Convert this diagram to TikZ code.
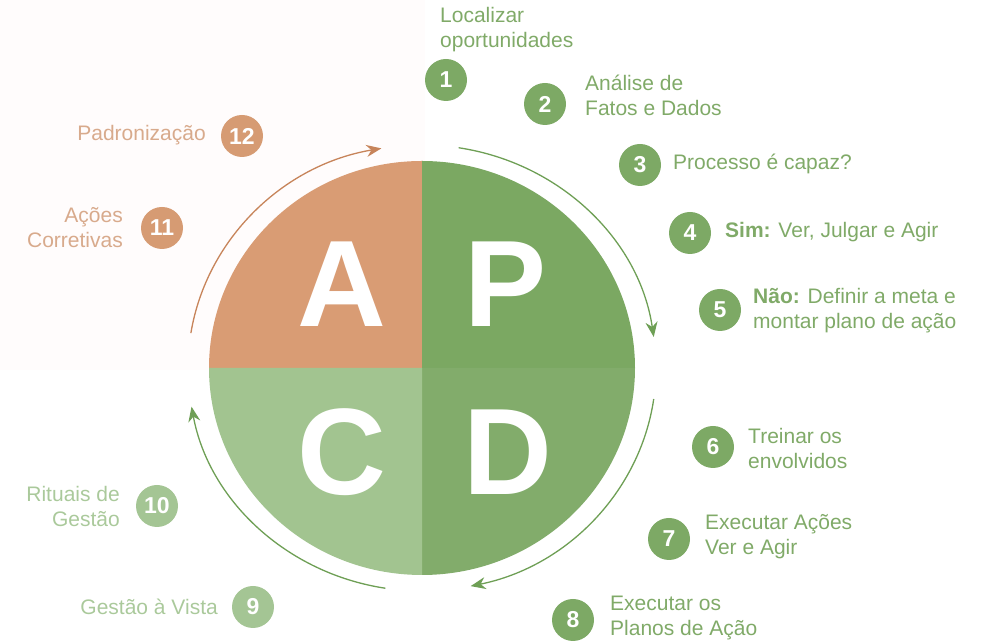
\documentclass[tikz,border=0pt]{standalone}
\usepackage{fontspec}
\setmainfont{Liberation Sans}
\usepackage{tikz}
\usetikzlibrary{arrows.meta,positioning}
\usepackage{xcolor}
\definecolor{pdcablush}{RGB}{255,252,252}
\definecolor{pdcaorange}{RGB}{217,156,116}
\definecolor{pdcagreen}{RGB}{123,168,98}
\definecolor{pdcadark}{RGB}{130,172,107}
\definecolor{pdcalight}{RGB}{162,196,144}
\definecolor{numgreen}{RGB}{125,169,101}
\definecolor{numlight}{RGB}{164,197,148}
\definecolor{numorange}{RGB}{214,155,115}
\definecolor{txtgreen}{RGB}{128,170,104}
\definecolor{txtlight}{RGB}{170,201,155}
\definecolor{txtorange}{RGB}{216,170,140}
\definecolor{arrgreen}{RGB}{110,159,85}
\definecolor{arrorange}{RGB}{199,132,90}
\tikzstyle{stepnum} = [circle, minimum size=42pt, inner sep=0pt, text=white, font=\fontsize{23}{23}\selectfont\bfseries]
\tikzstyle{steptext} = [inner sep=0pt, font=\fontsize{21}{25}\selectfont]
\tikzstyle{bigletter} = [inner sep=0pt, text=white, font=\fontsize{123}{123}\selectfont\bfseries]
\tikzstyle{cyclearrow} = [line width=1.3pt, -{Stealth[length=15pt,width=12pt]}]

\begin{document}
\begin{tikzpicture}[x=1pt, y=1pt]
\useasboundingbox (0,0) rectangle (994,644);
% Tinted corner
\fill[pdcablush] (0,274) rectangle (425,644);

% Quadrants
\coordinate (c) at (422,276);
\fill[pdcaorange] (c) -- ++(-213,0) arc[start angle=180, end angle=90, x radius=213, y radius=207] -- cycle;
\fill[pdcagreen] (c) -- ++(0,207) arc[start angle=90, end angle=0, x radius=213, y radius=207] -- cycle;
\fill[pdcadark] (c) -- ++(213,0) arc[start angle=0, end angle=-90, x radius=213, y radius=207] -- cycle;
\fill[pdcalight] (c) -- ++(0,-207) arc[start angle=-90, end angle=-180, x radius=213, y radius=207] -- cycle;

% Letters
\node[bigletter] (bigA) at (342,360) {A};
\node[bigletter] (bigP) at (506,360) {P};
\node[bigletter] (bigC) at (342,192) {C};
\node[bigletter] (bigD) at (508,192) {D};

% Cycle arrows
\coordinate (startA) at ([shift={(c)}]171:234 and 223);
\coordinate (startP) at ([shift={(c)}]81:234 and 223);
\coordinate (startD) at ([shift={(c)}]-8:234 and 223);
\coordinate (startC) at ([shift={(c)}]-99:234 and 223);
\draw[cyclearrow, arrorange] (startA) arc[start angle=171, end angle=100, x radius=234, y radius=223];
\draw[cyclearrow, arrgreen] (startP) arc[start angle=81, end angle=8, x radius=234, y radius=223];
\draw[cyclearrow, arrgreen] (startD) arc[start angle=-8, end angle=-78, x radius=234, y radius=223];
\draw[cyclearrow, arrgreen] (startC) arc[start angle=-99, end angle=-170, x radius=234, y radius=223];

% Steps
\node[stepnum, fill=numgreen] (n1) at (446,564) {1};
\node[stepnum, fill=numgreen] (n2) at (545,540) {2};
\node[stepnum, fill=numgreen] (n3) at (640,479) {3};
\node[stepnum, fill=numgreen] (n4) at (690,411) {4};
\node[stepnum, fill=numgreen] (n5) at (720,334) {5};
\node[stepnum, fill=numgreen] (n6) at (713,197) {6};
\node[stepnum, fill=numgreen] (n7) at (669,105) {7};
\node[stepnum, fill=numgreen] (n8) at (573,24) {8};
\node[stepnum, fill=numlight] (n9) at (253,37) {9};
\node[stepnum, fill=numlight] (n10) at (157,138) {10};
\node[stepnum, fill=numorange] (n11) at (162,416) {11};
\node[stepnum, fill=numorange] (n12) at (242,508) {12};

% Step texts
\node[steptext, txtgreen, align=left, anchor=west] (l1) at (440,614) {Localizar\\oportunidades};
\node[steptext, txtgreen, align=left, anchor=west] (l2) at (585,549) {Análise de\\Fatos e Dados};
\node[steptext, txtgreen, anchor=west] (l3) at (673,480) {Processo é capaz?};
\node[steptext, txtgreen, anchor=west] (l4) at (725,412) {{\bfseries Sim:} Ver, Julgar e Agir};
\node[steptext, txtgreen, align=left, anchor=west] (l5) at (753,333) {{\bfseries Não:} Definir a meta e\\montar plano de ação};
\node[steptext, txtgreen, align=left, anchor=west] (l6) at (748,195) {Treinar os\\envolvidos};
\node[steptext, txtgreen, align=left, anchor=west] (l7) at (705,107) {Executar Ações\\Ver e Agir};
\node[steptext, txtgreen, align=left, anchor=west] (l8) at (610,26) {Executar os\\Planos de Ação};
\node[steptext, txtlight, anchor=east] (l9) at (218,37) {Gestão à Vista};
\node[steptext, txtlight, align=right, anchor=east] (l10) at (120,137) {Rituais de\\Gestão};
\node[steptext, txtorange, align=right, anchor=east] (l11) at (123,416) {Ações\\Corretivas};
\node[steptext, txtorange, anchor=east] (l12) at (206,509) {Padronização};
\end{tikzpicture}
\end{document}
